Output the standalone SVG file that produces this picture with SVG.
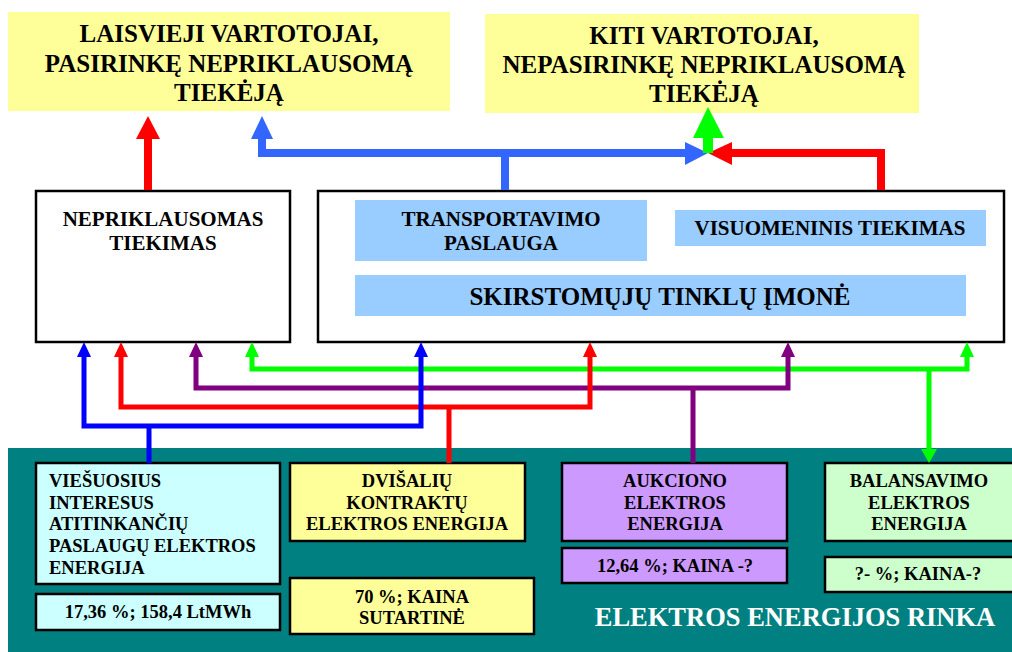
<svg xmlns="http://www.w3.org/2000/svg" width="1012" height="652" viewBox="0 0 1012 652">
<style>
text{font-family:"Liberation Serif","Times New Roman",serif;font-weight:bold;fill:#000}
.t25{font-size:25px;text-anchor:middle}
.t21{font-size:21px;text-anchor:middle}
.t18{font-size:18.5px;text-anchor:middle}
.l18{font-size:18.5px;text-anchor:start}
.box{stroke:#000;stroke-width:2.5}
.c5{fill:none;stroke-width:5}
.c8{fill:none;stroke-width:8}
</style>
<rect width="1012" height="652" fill="#fff"/>
<rect x="8" y="448" width="1004" height="204" fill="#008080"/>
<g id="laisvieji">
<rect x="8" y="12" width="442" height="99" fill="#FFFF99"/>
<text class="t25" x="229" y="42">LAISVIEJI VARTOTOJAI,</text>
<text class="t25" x="229" y="71.5">PASIRINKĘ NEPRIKLAUSOMĄ</text>
<text class="t25" x="229" y="101">TIEKĖJĄ</text>
</g>
<g id="kiti">
<rect x="485" y="14" width="434" height="99" fill="#FFFF99"/>
<text class="t25" x="704" y="44">KITI VARTOTOJAI,</text>
<text class="t25" x="704" y="73">NEPASIRINKĘ NEPRIKLAUSOMĄ</text>
<text class="t25" x="704" y="102">TIEKĖJĄ</text>
</g>
<g id="nepriklausomas">
<rect class="box" x="36" y="191" width="254" height="151" fill="#fff"/>
<text class="t21" x="163" y="226">NEPRIKLAUSOMAS</text>
<text class="t21" x="163" y="250">TIEKIMAS</text>
</g>
<g id="skirstomuju">
<rect class="box" x="318" y="191" width="686" height="151" fill="#fff"/>
<rect x="355" y="200" width="292" height="61" fill="#99CCFF"/>
<text class="t21" x="501" y="226">TRANSPORTAVIMO</text>
<text class="t21" x="501" y="250">PASLAUGA</text>
<rect x="675" y="210" width="311" height="36" fill="#99CCFF"/>
<text class="t21" x="830" y="235">VISUOMENINIS TIEKIMAS</text>
<rect x="355" y="275" width="611" height="41" fill="#99CCFF"/>
<text class="t25" x="660" y="305">SKIRSTOMŲJŲ TINKLŲ ĮMONĖ</text>
</g>
<g id="viesuosius">
<rect class="box" x="36" y="463" width="244" height="121" fill="#CCFFFF"/>
<text class="l18" x="49" y="487">VIEŠUOSIUS</text>
<text class="l18" x="49" y="508.5">INTERESUS</text>
<text class="l18" x="49" y="530">ATITINKANČIŲ</text>
<text class="l18" x="49" y="552">PASLAUGŲ ELEKTROS</text>
<text class="l18" x="49" y="573.5">ENERGIJA</text>
<rect class="box" x="36" y="594" width="244" height="36" fill="#CCFFFF"/>
<text class="t18" x="158" y="618">17,36 %; 158,4 LtMWh</text>
</g>
<g id="dvisaliu">
<rect class="box" x="290" y="463" width="235" height="78" fill="#FFFF99"/>
<text class="t18" x="407" y="487">DVIŠALIŲ</text>
<text class="t18" x="407" y="508.5">KONTRAKTŲ</text>
<text class="t18" x="407" y="530">ELEKTROS ENERGIJA</text>
<rect class="box" x="290" y="578" width="244" height="56" fill="#FFFF99"/>
<text class="t18" x="412" y="603">70 %; KAINA</text>
<text class="t18" x="412" y="624">SUTARTINĖ</text>
</g>
<g id="aukciono">
<rect class="box" x="562" y="463" width="225" height="78" fill="#CC99FF"/>
<text class="t18" x="675" y="487">AUKCIONO</text>
<text class="t18" x="675" y="508.5">ELEKTROS</text>
<text class="t18" x="675" y="530">ENERGIJA</text>
<rect class="box" x="562" y="548" width="225" height="35" fill="#CC99FF"/>
<text class="t18" x="675" y="572">12,64 %; KAINA -?</text>
</g>
<g id="balansavimo">
<rect class="box" x="825" y="463" width="190" height="78" fill="#CCFFCC"/>
<text class="t18" x="919" y="487">BALANSAVIMO</text>
<text class="t18" x="919" y="508.5">ELEKTROS</text>
<text class="t18" x="919" y="530">ENERGIJA</text>
<rect class="box" x="825" y="557" width="190" height="35" fill="#CCFFCC"/>
<text class="t18" x="918" y="580">?- %; KAINA-?</text>
</g>
<g id="rinka">
<text x="795" y="626" style="font-size:26.5px;text-anchor:middle;fill:#fff">ELEKTROS ENERGIJOS RINKA</text>
</g>
<g id="connectors">
<path class="c8" stroke="#FF0000" d="M148,190 V137"/>
<polygon fill="#FF0000" points="136,139 160,139 148,116"/>
<path class="c8" stroke="#3366FF" d="M505,190 V153 M262,139 V153 H687"/>
<polygon fill="#3366FF" points="251,139 273,139 262,116"/>
<polygon fill="#3366FF" points="685,142 685,165 708,153"/>
<path class="c8" stroke="#FF0000" d="M881,190 V153 H730"/>
<polygon fill="#FF0000" points="732,142 732,165 708,153"/>
<path fill="none" stroke="#00FF00" stroke-width="10" d="M708,153 V136"/>
<polygon fill="#00FF00" points="693,138 724,138 708,107"/>
<path class="c5" stroke="#00FF00" d="M252,356 V369 H967 V356 M929,369 V450"/>
<polygon fill="#00FF00" points="245,357 259,357 252,342"/>
<polygon fill="#00FF00" points="960,357 974,357 967,342"/>
<polygon fill="#00FF00" points="921,449 937,449 929,463"/>
<path class="c5" stroke="#800080" d="M196,356 V388 H788 V356 M693,388 V463"/>
<polygon fill="#800080" points="189,357 203,357 196,342"/>
<polygon fill="#800080" points="781,357 795,357 788,342"/>
<path class="c5" stroke="#FF0000" d="M121,356 V407 H590 V356 M449,407 V463"/>
<polygon fill="#FF0000" points="114,357 128,357 121,342"/>
<polygon fill="#FF0000" points="583,357 597,357 590,342"/>
<path class="c5" stroke="#0000FF" d="M84,356 V426 H421 V356 M149,426 V463"/>
<polygon fill="#0000FF" points="77,357 91,357 84,342"/>
<polygon fill="#0000FF" points="414,357 428,357 421,342"/>
</g>
</svg>
